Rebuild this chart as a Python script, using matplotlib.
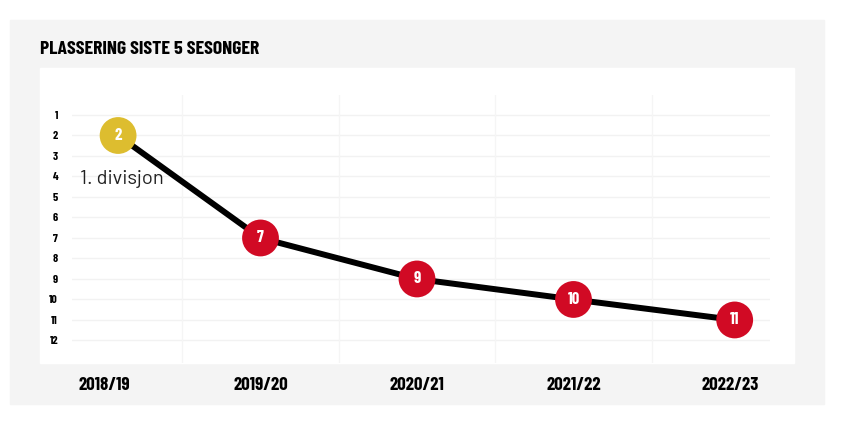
import matplotlib.pyplot as plt
from matplotlib.patches import Rectangle
from matplotlib import font_manager

seasons = ["2018/19", "2019/20", "2020/21", "2021/22", "2022/23"]
positions = [2, 7, 9, 10, 11]
dot_colors = ["#DDBD2F", "#D10A24", "#D10A24", "#D10A24", "#D10A24"]
rank_ticks = list(range(1, 13))
title = "PLASSERING SISTE 5 SESONGER"
note = "1. divisjon"

names = {f.name for f in font_manager.fontManager.ttflist}

def pick(options):
    for o in options:
        if o in names:
            return o
    return "DejaVu Sans"

cond = pick(["Barlow Condensed", "Roboto Condensed", "Oswald", "Liberation Sans Narrow"])
plain = pick(["Barlow", "Roboto", "Lato"])

W, H = 845, 425
fig = plt.figure(figsize=(W / 100, H / 100), dpi=100)
fig.patch.set_facecolor("white")

def px_rect(x0, y0, x1, y1, color):
    fig.patches.append(Rectangle((x0 / W, 1 - y1 / H), (x1 - x0) / W, (y1 - y0) / H,
                                 transform=fig.transFigure, color=color, zorder=-10))

px_rect(10, 20, 824, 404, "#F4F4F4")
px_rect(40, 68, 794, 363, "white")

fig.text(40 / W, 1 - 49 / H, title, fontsize=14.2, fontweight="bold", family=cond,
         va="center", ha="left")

ax = fig.add_axes([72 / W, 1 - 363 / H, (770 - 72) / W, (363 - 95) / H])
ax.set_facecolor("none")
for s in ax.spines.values():
    s.set_visible(False)

ax.set_xlim(-0.2045, 4.2556)
ax.set_ylim(13.1, 0.024)

for r in rank_ticks:
    ax.axhline(r, color="#F2F2F2", lw=1, zorder=0)
for i in range(len(seasons) - 1):
    ax.axvline(i + 0.5, color="#F5F5F5", lw=1, zorder=0)

x = list(range(len(seasons)))
# the original nudges the end points a bit so the dots clear the edges
x_pts = list(x)
x_pts[0] += 0.09
x_pts[-1] += 0.03
ax.plot(x_pts, positions, color="black", lw=4.3, zorder=2, solid_capstyle="butt")
ax.scatter(x_pts, positions, s=26.5 ** 2, c=dot_colors, zorder=3, linewidths=0)
for xi, p in zip(x_pts, positions):
    ax.text(xi, p, str(p), color="white", fontsize=12, fontweight="bold", family=cond,
            ha="center", va="center", zorder=4)

ax.text(-0.155, 4.1, note, fontsize=14.5, family=plain, color="#222222",
        ha="left", va="center", zorder=4)

ax.set_yticks(rank_ticks)
ax.set_yticklabels([str(r) for r in rank_ticks], fontsize=8.5, fontweight="bold", family=cond)
ax.set_xticks(x)
ax.set_xticklabels(seasons, fontsize=13.5, fontweight="bold", family=cond)
ax.tick_params(axis="y", length=0, pad=10)
ax.tick_params(axis="x", length=0, pad=10)

fig.savefig("out.png", dpi=100)
